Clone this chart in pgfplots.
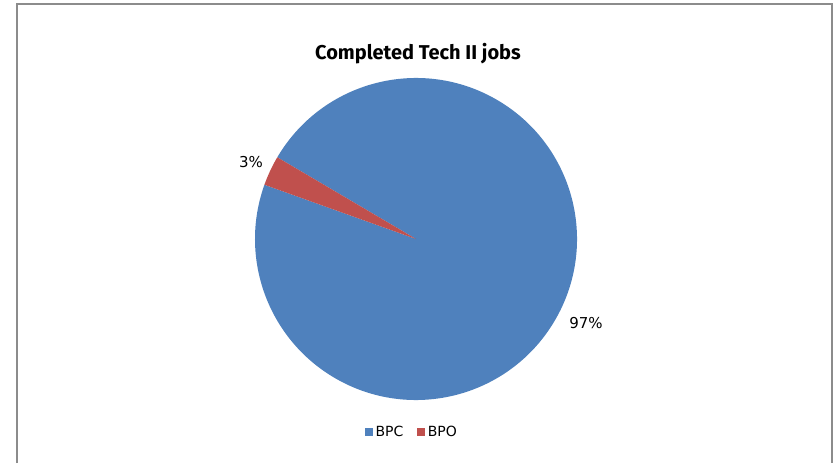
\documentclass[border=0pt]{standalone}
\usepackage{pgfplots}
\pgfplotsset{compat=1.18}
\usepackage{pgfplotstable}
\usepackage{fontspec}
\setmainfont{DejaVu Sans}
\newfontfamily\titlefont{Fira Sans}
\definecolor{bpc}{HTML}{4F81BD}
\definecolor{bpo}{HTML}{C0504D}
\definecolor{framegray}{HTML}{8C8C8C}

% share of completed jobs
\pgfplotstableread{
name value
BPC 97
BPO 3
}\piedata

\begin{document}
\begin{tikzpicture}
\pgfplotstablegetelem{0}{value}\of\piedata \let\va\pgfplotsretval
\pgfplotstablegetelem{1}{value}\of\piedata \let\vb\pgfplotsretval
\pgfmathsetmacro{\total}{\va+\vb}
\pgfmathsetmacro{\aS}{149.5}
\pgfmathsetmacro{\aM}{\aS-360*(\va/\total)}
\pgfmathsetmacro{\aE}{\aS-360}
\begin{axis}[
    scale only axis,
    width=837pt, height=463pt,
    xmin=0, xmax=837, ymin=0, ymax=463,
    hide axis, clip=false,
    legend columns=2,
    legend style={draw=none, fill=none,
        at={(0.4922,0.067)}, anchor=center,
        font=\fontsize{14}{16}\selectfont,
        /tikz/every odd column/.append style={column sep=1pt},
        /tikz/every even column/.append style={column sep=12pt}},
    legend image code/.code={\fill[#1] (0pt,-3.5pt) rectangle (7pt,3.5pt);},
]
\path (axis cs:0,0) rectangle (axis cs:837,463);
\draw[framegray, line width=1.5pt] (axis cs:17,0) -- (axis cs:17,459)
    -- (axis cs:832,459) -- (axis cs:832,0);

% slices
\fill[bpc] (axis cs:416,224) -- ++(\aS:161pt)
    arc[start angle=\aS, end angle=\aM, radius=161pt] -- cycle;
\fill[bpo] (axis cs:416,224) -- ++(\aM:161pt)
    arc[start angle=\aM, end angle=\aE, radius=161pt] -- cycle;

% labels
\node[font=\titlefont\fontsize{20}{24}\selectfont\bfseries] at (axis cs:418,409) {Completed Tech II jobs};
\node[font=\fontsize{15}{18}\selectfont] at (axis cs:251,301) {3\%};
\node[font=\fontsize{15}{18}\selectfont] at (axis cs:586,140) {97\%};

\addlegendimage{bpc}
\addlegendentry{BPC}
\addlegendimage{bpo}
\addlegendentry{BPO}
\end{axis}
\end{tikzpicture}
\end{document}
